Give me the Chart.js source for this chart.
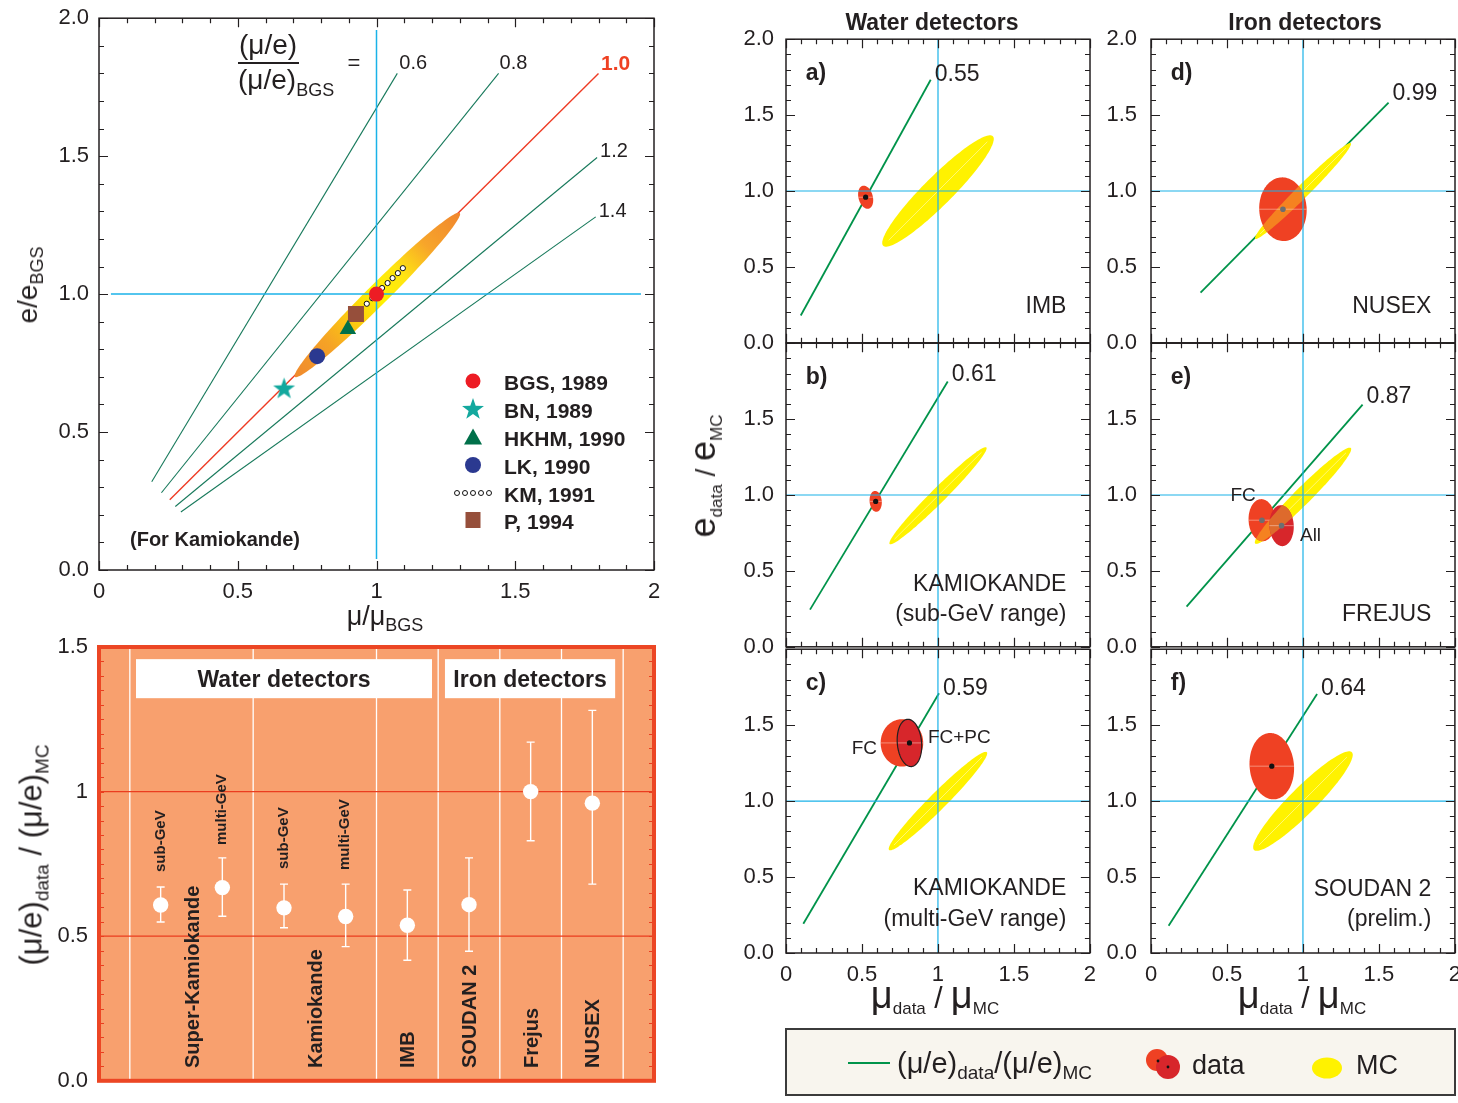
<!DOCTYPE html>
<html lang="en"><head><meta charset="utf-8">
<title>μ/e ratio: flux models and detector results</title>
<script src="https://cdn.jsdelivr.net/npm/chart.js@4.4.1/dist/chart.umd.min.js"></script>
<style>
html,body{margin:0;padding:0;background:#fff;}
body{position:relative;width:1458px;height:1103px;overflow:hidden;font-family:"Liberation Sans",Arial,Helvetica,sans-serif;color:#231f20;}
canvas{position:absolute;z-index:1;}
.lbl{position:absolute;z-index:5;white-space:nowrap;line-height:1;}
.sb{position:relative;}
#legendBox{position:absolute;left:785px;top:1028px;width:671px;height:68px;box-sizing:border-box;border:2px solid #3b3b3b;background:#f8f5ee;z-index:2;}
</style></head><body>
<div id="legendBox"></div>
<script>
// ================= DATA =================
// --- top-left: (mu/e)/(mu/e)_BGS ratio lines and flux models ---
const tlXTickLabels = ['0','0.5','1','1.5','2'];
const tlYTickLabels = ['0.0','0.5','1.0','1.5','2.0'];
const tlRatioLabels = ['0.6','0.8','1.0','1.2','1.4'];
const tlLineStart = [[0.19,0.32],[0.225,0.28],[0.255,0.255],[0.275,0.23],[0.295,0.21]];
const tlLineEnd   = [[1.075,1.80],[1.44,1.80],[1.80,1.80],[1.795,1.495],[1.79,1.28]];
const tlModels   = ['BGS, 1989','BN, 1989','HKHM, 1990','LK, 1990','KM, 1991','P, 1994'];
const tlModelMu  = [1.0, 0.667, 0.897, 0.786, null, 0.926];
const tlModelE   = [1.0, 0.656, 0.873, 0.775, null, 0.928];
const kmMu = [0.965,0.985,1.02,1.04,1.058,1.077,1.095];
const kmE  = [0.965,0.985,1.022,1.04,1.058,1.076,1.094];
const tlBand = [1.003,0.997,0.42,0.038,45];          // centre mu, centre e, half-length, half-width, angle
const tlCyanV = [[1,0.04],[1,1.957]];
const tlCyanH = [[0.043,1],[1.953,1]];
const axisMajor = [0,0.5,1,1.5,2];
const axisMinor = [0.1,0.2,0.3,0.4,0.6,0.7,0.8,0.9,1.1,1.2,1.3,1.4,1.6,1.7,1.8,1.9];

// --- bottom-left: (mu/e)_data/(mu/e)_MC per experiment ---
const blCategories = ['Super-Kamiokande sub-GeV','Super-Kamiokande multi-GeV','Kamiokande sub-GeV','Kamiokande multi-GeV','IMB','SOUDAN 2','Frejus','NUSEX'];
const blRatio = [0.608,0.668,0.598,0.568,0.538,0.609,1.0,0.96];
const blHigh  = [0.67,0.771,0.68,0.68,0.66,0.771,1.171,1.281];
const blLow   = [0.549,0.569,0.529,0.464,0.417,0.448,0.83,0.68];
const blYTickLabels = ['0.0','0.5','1','1.5'];
const blDetectors = ['Super-Kamiokande','Kamiokande','IMB','SOUDAN 2','Frejus','NUSEX'];
const blEnergyLabels = ['sub-GeV','multi-GeV','sub-GeV','multi-GeV'];
const blGroups = ['Water detectors','Iron detectors'];
const blRefLines = [0.5,1.0];
const blSeparators = [0.5,2.5,4.5,5.5,6.5,7.5,8.5];
const blMinor = [0.05,0.1,0.15,0.2,0.25,0.3,0.35,0.4,0.45,0.5,0.55,0.6,0.65,0.7,0.75,0.8,0.85,0.9,0.95,1,1.05,1.1,1.15,1.2,1.25,1.3,1.35,1.4,1.45];

// --- right: six detector panels (mu_data/mu_MC vs e_data/e_MC) ---
const panelLetters = ['a)','b)','c)','d)','e)','f)'];
const panelGroups = ['Water detectors','Iron detectors'];
const panelRatioLabels = ['0.55','0.61','0.59','0.99','0.87','0.64'];
const panelDetector = [['IMB'],['KAMIOKANDE','(sub-GeV range)'],['KAMIOKANDE','(multi-GeV range)'],['NUSEX'],['FREJUS'],['SOUDAN 2','(prelim.)']];
const panelLineStart = [[0.097,0.18],[0.158,0.245],[0.114,0.193],[0.326,0.33],[0.234,0.265],[0.116,0.18]];
const panelLineEnd   = [[0.952,1.733],[1.064,1.748],[1.007,1.71],[1.563,1.582],[1.392,1.595],[1.093,1.705]];
const panelMC = [[1.0,1.0,0.51,0.095,45],[1.0,0.995,0.45,0.048,45],[1.0,1.0,0.455,0.056,45],[1.0,1.0,0.445,0.042,45],[1.0,0.995,0.445,0.055,45],[1.0,1.0,0.455,0.088,45]];
const panelDataTags = [[''],[''],['FC','FC+PC'],[''],['FC','All'],['']];
const panelDataMu   = [[0.524],[0.59],[0.763,0.8125],[0.868],[0.73,0.859],[0.795]];
const panelDataE    = [[0.959],[0.958],[1.383,1.383],[0.88],[0.834,0.798],[1.23]];
const panelDataA    = [[0.078],[0.069],[0.156,0.156],[0.21],[0.139,0.135],[0.219]];
const panelDataB    = [[0.047],[0.04],[0.14,0.08],[0.156],[0.088,0.08],[0.146]];
const panelDataTilt = [[105],[95],[90,95],[93],[93,93],[95]];
const panelXTickLabels = ['0','0.5','1','1.5','2'];
const panelYTickLabels = ['0.0','0.5','1.0','1.5','2.0'];

// ================= LAYOUT & STYLE =================
const FONT = '"Liberation Sans", Arial, Helvetica, sans-serif';
const INK = '#231f20', CYAN = '#1ab2e8', GREEN = '#00934a', TLGREEN = '#17795b';
const LAYOUT = {
  tlArea: {x:99, y:18, w:555, h:552},
  blArea: {x:99, y:647, w:555, h:434},
  tlLabelOffsets: [[2,-11],[1,-11],[2.5,-11],[3,-7],[3,-7]],
  panelAreaLeft: [786,1151], panelAreaTop: [39,343,649], panelSize: 304,
  panelRatioOffsets: [[4,-7],[4,-8],[4,-6],[4,-10],[4,-9],[4,-7]],
  detectorLabelY: [[0.25],[0.42,0.224],[0.43,0.232],[0.245],[0.224],[0.424,0.232]],
  tagPos: [[],[],[[0.599,1.354,1],[0.934,1.43,0]],[],[[0.523,1.007,0],[0.98,0.743,0]],[]],
  blDetectorX: [1.5,3.5,5,6,7,8],
  blEnergyX: [0.97,1.97,2.97,3.95], blEnergyY: [0.722,0.816,0.733,0.729],
  blGroupBox: [[0.6,5.4],[5.61,8.37]], blGroupY: [1.323,1.458]
};
const BAND_STOPS = [[0,'#f08a2e'],[0.2,'#f5a226'],[0.38,'#fdd20c'],[0.5,'#fff200'],[0.64,'#ffe412'],[0.8,'#f7a52a'],[1,'#f0862e']];
const panelOverlap = [false,false,false,true,true,false];
const panelDotColor = ['#111','#111','#111','#6d6e71','#6d6e71','#111'];
const panelDotRadius = [[2.6],[2.6],[0,2.6],[2.8],[2.8,2.8],[2.6]];   // FC centre in c) is hidden under FC+PC

// ================= HELPERS =================
function sub(t,size,shift){ return `<span class="sb" style="font-size:${size}px;top:${shift}px">${t}</span>`; }
function addText(html,x,y,o){
  o=o||{};
  const el=document.createElement('div');
  el.className='lbl'; el.innerHTML=html;
  el.style.left=x+'px'; el.style.top=y+'px';
  el.style.fontSize=(o.size||20)+'px';
  if(o.bold) el.style.fontWeight='bold';
  if(o.color) el.style.color=o.color;
  const ax=(o.ax===undefined)?0.5:o.ax, ay=(o.ay===undefined)?0.5:o.ay;
  if(o.rot==='start'){ el.style.transformOrigin='0 0'; el.style.transform='rotate(-90deg) translateY(-50%)'; }
  else if(o.rot==='center'){ el.style.transform='translate(-50%,-50%) rotate(-90deg)'; }
  else el.style.transform=`translate(${-ax*100}%,${-ay*100}%)`;
  document.body.appendChild(el); return el;
}
function makeCanvas(id,w,h){
  const c=document.createElement('canvas'); c.id=id; c.width=w; c.height=h;
  c.style.left='0px'; c.style.top='0px'; c.style.width=w+'px'; c.style.height=h+'px';
  document.body.appendChild(c); return c;
}
function ellipsePath(ctx,xs,ys,g){
  const [cx,cy,a,b,ang]=g, th=ang*Math.PI/180, c=Math.cos(th), s=Math.sin(th);
  ctx.beginPath();
  for(let k=0;k<=120;k++){
    const t=k/120*2*Math.PI, u=a*Math.cos(t), v=b*Math.sin(t);
    const px=xs.getPixelForValue(cx+u*c-v*s), py=ys.getPixelForValue(cy+u*s+v*c);
    if(k===0) ctx.moveTo(px,py); else ctx.lineTo(px,py);
  }
  ctx.closePath();
}
function drawShapes(chart,d){
  const {ctx,scales:{x:xs,y:ys}}=chart;
  const P=(x,y)=>[xs.getPixelForValue(x),ys.getPixelForValue(y)];
  ctx.save();
  if(d.band){
    const [cx,cy,a,,ang]=d.band.geom, th=ang*Math.PI/180;
    const p0=P(cx-a*Math.cos(th),cy-a*Math.sin(th)), p1=P(cx+a*Math.cos(th),cy+a*Math.sin(th));
    const g=ctx.createLinearGradient(p0[0],p0[1],p1[0],p1[1]);
    d.band.stops.forEach(s=>g.addColorStop(s[0],s[1]));
    ellipsePath(ctx,xs,ys,d.band.geom); ctx.fillStyle=g; ctx.fill();
  }
  if(d.mc){
    ellipsePath(ctx,xs,ys,d.mc); ctx.fillStyle='#fff200'; ctx.fill();
    const [cx,cy,a,,ang]=d.mc, th=ang*Math.PI/180;
    const p0=P(cx-0.9*a*Math.cos(th),cy-0.9*a*Math.sin(th)), p1=P(cx+0.9*a*Math.cos(th),cy+0.9*a*Math.sin(th));
    ctx.strokeStyle='rgba(255,255,255,0.45)'; ctx.lineWidth=1;
    ctx.beginPath(); ctx.moveTo(p0[0],p0[1]); ctx.lineTo(p1[0],p1[1]); ctx.stroke();
  }
  (d.data||[]).forEach(e=>{
    ellipsePath(ctx,xs,ys,e.geom); ctx.fillStyle=e.fill; ctx.fill();
    if(e.overlap&&d.mc){
      ctx.save(); ellipsePath(ctx,xs,ys,e.geom); ctx.clip();
      ellipsePath(ctx,xs,ys,d.mc); ctx.fillStyle=e.overlap; ctx.fill(); ctx.restore();
    }
    const [cx,cy,a,b,ang]=e.geom, th=ang*Math.PI/180;
    const hw=1/Math.sqrt(Math.cos(th)**2/(a*a)+Math.sin(th)**2/(b*b));
    const q0=P(cx-hw,cy), q1=P(cx+hw,cy);
    ctx.strokeStyle='rgba(255,220,205,0.5)'; ctx.lineWidth=1;
    ctx.beginPath(); ctx.moveTo(q0[0],q0[1]); ctx.lineTo(q1[0],q1[1]); ctx.stroke();
    if(e.stroke){ ellipsePath(ctx,xs,ys,e.geom); ctx.strokeStyle=e.stroke; ctx.lineWidth=1.2; ctx.stroke(); }
  });
  ctx.restore();
}
function drawTicks(chart,t){
  const {ctx,chartArea:ca,scales:{x:xs,y:ys}}=chart;
  const sides=t.sides||['top','bottom','left','right'];
  ctx.save(); ctx.strokeStyle=t.color; ctx.lineWidth=t.width; ctx.beginPath();
  const putX=(vals,len)=>vals.forEach(v=>{const p=Math.round(xs.getPixelForValue(v))+0.5;
    if(sides.includes('bottom')){ctx.moveTo(p,ca.bottom);ctx.lineTo(p,ca.bottom-len);}
    if(sides.includes('top')){ctx.moveTo(p,ca.top);ctx.lineTo(p,ca.top+len);}});
  const putY=(vals,len)=>vals.forEach(v=>{const p=Math.round(ys.getPixelForValue(v))+0.5;
    if(sides.includes('left')){ctx.moveTo(ca.left,p);ctx.lineTo(ca.left+len,p);}
    if(sides.includes('right')){ctx.moveTo(ca.right,p);ctx.lineTo(ca.right-len,p);}});
  if(t.x){putX(t.x.major,t.majorLen);putX(t.x.minor,t.minorLen);}
  if(t.y){putY(t.y.major,t.majorLen);putY(t.y.minor,t.minorLen);}
  ctx.stroke(); ctx.restore();
}
const DECO={};
Chart.register({
  id:'deco',
  beforeDatasetsDraw(chart){
    const d=DECO[chart.canvas.id]; if(!d) return;
    const {ctx,chartArea:ca,scales:{x:xs,y:ys}}=chart;
    ctx.save();
    if(d.bg){ctx.fillStyle=d.bg; ctx.fillRect(ca.left,ca.top,ca.width,ca.height);}
    if(d.vlines){ctx.strokeStyle=d.vlines.color; ctx.lineWidth=d.vlines.width; ctx.beginPath();
      d.vlines.at.forEach(v=>{const p=xs.getPixelForValue(v); ctx.moveTo(p,ca.top); ctx.lineTo(p,ca.bottom);}); ctx.stroke();}
    if(d.hlines){ctx.strokeStyle=d.hlines.color; ctx.lineWidth=d.hlines.width; ctx.beginPath();
      d.hlines.at.forEach(v=>{const p=ys.getPixelForValue(v); ctx.moveTo(ca.left,p); ctx.lineTo(ca.right,p);}); ctx.stroke();}
    (d.boxes||[]).forEach(b=>{const x0=xs.getPixelForValue(b.x0),x1=xs.getPixelForValue(b.x1),y0=ys.getPixelForValue(b.y0),y1=ys.getPixelForValue(b.y1);
      ctx.fillStyle=b.fill; ctx.fillRect(x0,y1,x1-x0,y0-y1);});
    if(d.errors){const e=d.errors; ctx.strokeStyle=e.color; ctx.lineWidth=e.width; ctx.beginPath();
      e.x.forEach((xv,i)=>{const p=xs.getPixelForValue(xv),pl=ys.getPixelForValue(e.lo[i]),ph=ys.getPixelForValue(e.hi[i]);
        ctx.moveTo(p,pl);ctx.lineTo(p,ph);ctx.moveTo(p-e.cap,pl);ctx.lineTo(p+e.cap,pl);ctx.moveTo(p-e.cap,ph);ctx.lineTo(p+e.cap,ph);});
      ctx.stroke();}
    ctx.restore();
  },
  beforeDatasetDraw(chart,args){
    const d=DECO[chart.canvas.id];
    if(d && chart.data.datasets[args.index].shapesBefore) drawShapes(chart,d);
  },
  afterDraw(chart){
    const d=DECO[chart.canvas.id]; if(!d) return;
    const {ctx,chartArea:ca}=chart;
    if(d.ticks) drawTicks(chart,d.ticks);
    if(d.frame){ctx.save(); ctx.strokeStyle=d.frame.color; ctx.lineWidth=d.frame.width; ctx.strokeRect(ca.left,ca.top,ca.width,ca.height); ctx.restore();}
  }
});
function placeLabels(chart){
  const d=DECO[chart.canvas.id]; if(!d||!d.labels) return;
  const L=parseFloat(chart.canvas.style.left), T=parseFloat(chart.canvas.style.top), xs=chart.scales.x, ys=chart.scales.y;
  d.labels.forEach(l=>addText(l.html, L+xs.getPixelForValue(l.x)+(l.dx||0), T+ys.getPixelForValue(l.y)+(l.dy||0), l));
}
// create a chart whose plot area lands exactly on the requested page rectangle
function buildChart(id,area,m,cfgFn){
  let w=area.w+m.l+m.r, h=area.h+m.t+m.b, chart, cv;
  for(let it=0;it<5;it++){
    cv=makeCanvas(id,Math.round(w),Math.round(h));
    chart=new Chart(cv,cfgFn());
    const ca=chart.chartArea;
    const dw=area.w-(ca.right-ca.left), dh=area.h-(ca.bottom-ca.top);
    if((Math.abs(dw)<0.5&&Math.abs(dh)<0.5)||it===4){
      cv.style.left=(area.x-ca.left)+'px'; cv.style.top=(area.y-ca.top)+'px'; break;
    }
    chart.destroy(); cv.remove(); w+=dw; h+=dh;
  }
  placeLabels(chart);
  return chart;
}
function axis(min,max,step,labels,o){
  return {type:'linear',min,max,display:o.display!==false,
    grid:{display:false,drawTicks:false},border:{display:false},
    ticks:{stepSize:step,padding:o.pad,color:INK,font:{family:FONT,size:22},autoSkip:false,maxRotation:0,minRotation:0,
      callback:(v)=>{const i=Math.round((v-min)/step); return (o.hide||[]).includes(i)?'':labels[i];}},
    afterFit:(s)=>{ if(o.w) s.width=o.w; if(o.h) s.height=o.h; }};
}
function opts(xA,yA,pad){
  return {responsive:false,maintainAspectRatio:false,animation:false,events:[],layout:{padding:pad},
    plugins:{legend:{display:false},tooltip:{enabled:false}},scales:{x:xA,y:yA}};
}
function lineDs(p0,p1,color,width,extra){
  return Object.assign({data:[{x:p0[0],y:p0[1]},{x:p1[0],y:p1[1]}],showLine:true,borderColor:color,borderWidth:width,pointRadius:0,fill:false,tension:0},extra||{});
}
function starImage(r,ri,color){
  const s=Math.ceil(r*2+2), c=document.createElement('canvas'); c.width=s; c.height=s;
  const g=c.getContext('2d'); g.fillStyle=color; g.beginPath();
  for(let k=0;k<10;k++){const rr=k%2?ri:r, a=-Math.PI/2+k*Math.PI/5, X=s/2+rr*Math.cos(a), Y=s/2+rr*Math.sin(a); if(k) g.lineTo(X,Y); else g.moveTo(X,Y);}
  g.closePath(); g.fill(); return c;
}
function starPoints(cx,cy,r,ri){let p=[];for(let k=0;k<10;k++){const rr=k%2?ri:r,a=-Math.PI/2+k*Math.PI/5;p.push((cx+rr*Math.cos(a)).toFixed(2)+','+(cy+rr*Math.sin(a)).toFixed(2));}return p.join(' ');}

// ================= TOP-LEFT CHART =================
const STAR = starImage(11.5,4.6,'#13a89e');
const MODEL_STYLE = [
  {style:'circle',r:7.5,color:'#ed1c24'},
  {style:STAR,r:11,color:'#13a89e'},
  {style:'triangle',r:9.5,color:'#00704a'},
  {style:'circle',r:8,color:'#2b3990'},
  {style:'circle',r:2.6,color:'#fff'},
  {style:'rect',r:11.3,color:'#964f3b'}
];
DECO.tl={
  frame:{color:INK,width:1.5},
  ticks:{x:{major:axisMajor,minor:axisMinor},y:{major:axisMajor,minor:axisMinor},majorLen:9,minorLen:5,color:INK,width:1.2},
  band:{geom:tlBand,stops:BAND_STOPS},
  labels:tlRatioLabels.map((t,i)=>({x:tlLineEnd[i][0],y:tlLineEnd[i][1],html:t,size:i===2?21:20,bold:i===2,color:i===2?'#ef4123':INK,ax:0,ay:0.5,dx:LAYOUT.tlLabelOffsets[i][0],dy:LAYOUT.tlLabelOffsets[i][1]}))
};
buildChart('tl',LAYOUT.tlArea,{l:99,t:18,r:26,b:70},()=>{
  const modelSets=tlModels.map((m,i)=>{
    if(i===4) return {label:m,data:kmMu.map((v,k)=>({x:v,y:kmE[k]})),pointStyle:'circle',pointRadius:2.6,pointBackgroundColor:'#fff',pointBorderColor:'#111',pointBorderWidth:1};
    return {label:m,data:[{x:tlModelMu[i],y:tlModelE[i]}],pointStyle:MODEL_STYLE[i].style,pointRadius:MODEL_STYLE[i].r,pointBackgroundColor:MODEL_STYLE[i].color,pointBorderWidth:0};
  });
  const ratioSets=tlRatioLabels.map((r,i)=>lineDs(tlLineStart[i],tlLineEnd[i],i===2?'#ee3b24':TLGREEN,i===2?1.4:1.1,{label:'ratio '+r}));
  return {type:'scatter',data:{datasets:[
    ...modelSets,
    lineDs(tlCyanV[0],tlCyanV[1],CYAN,1.5),
    lineDs(tlCyanH[0],tlCyanH[1],CYAN,1.5,{shapesBefore:true}),
    ...ratioSets
  ]},options:opts(axis(0,2,0.5,tlXTickLabels,{pad:9,h:70}),axis(0,2,0.5,tlYTickLabels,{pad:10,w:99}),{top:18,right:26,bottom:0,left:0})};
});
// static texts of the top-left panel
addText('(μ/e)',268,45,{size:28});
{ const bar=document.createElement('div'); bar.style.cssText='position:absolute;left:238px;top:62px;width:61px;height:1.5px;background:#231f20;z-index:5;'; document.body.appendChild(bar); }
addText('(μ/e)'+sub('BGS',18,7),238,80,{size:28,ax:0});
addText('=',354,63,{size:22});
addText('e/e'+sub('BGS',18,6),28,285,{size:28,rot:'center'});
addText('μ/μ'+sub('BGS',18,6),385,616,{size:27});
addText('(For Kamiokande)',130,539,{size:20,bold:true,ax:0});
{
  const rows=[381.7,410,437.5,466,493.5,521];
  const icons=[
    '<svg width="20" height="20"><circle cx="10" cy="10" r="7.5" fill="#ed1c24"/></svg>',
    `<svg width="24" height="24"><polygon points="${starPoints(12,12.5,11.5,4.6)}" fill="#13a89e"/></svg>`,
    '<svg width="20" height="20"><polygon points="10,1.5 19,17.5 1,17.5" fill="#00704a"/></svg>',
    '<svg width="20" height="20"><circle cx="10" cy="10" r="8" fill="#2b3990"/></svg>',
    '<svg width="40" height="10">'+[4,12,20,28,36].map(c=>`<circle cx="${c}" cy="5" r="2.5" fill="#fff" stroke="#111" stroke-width="1"/>`).join('')+'</svg>',
    '<svg width="18" height="18"><rect x="1.5" y="1" width="15" height="16" fill="#964f3b"/></svg>'
  ];
  tlModels.forEach((m,i)=>{ addText(icons[i],473,rows[i],{size:10}); addText(m,504,rows[i],{size:21,bold:true,ax:0}); });
}

// ================= BOTTOM-LEFT CHART =================
{
  const xs=blRatio.map((v,i)=>i+1);
  DECO.bl={
    bg:'#f8a06e',
    vlines:{at:blSeparators,color:'#ffffff',width:1.3},
    hlines:{at:blRefLines,color:'#ea3d1f',width:1.2},
    boxes:LAYOUT.blGroupBox.map(b=>({x0:b[0],x1:b[1],y0:LAYOUT.blGroupY[0],y1:LAYOUT.blGroupY[1],fill:'#ffffff'})),
    errors:{x:xs,lo:blLow,hi:blHigh,color:'#ffffff',width:1.4,cap:4},
    ticks:{y:{major:[],minor:blMinor},majorLen:6,minorLen:5,color:'#ea3d1f',width:1,sides:['left','right']},
    frame:{color:'#ec4624',width:4},
    labels:[
      ...blDetectors.map((t,k)=>({x:LAYOUT.blDetectorX[k],y:0,dy:-13,html:t,size:20,bold:true,rot:'start'})),
      ...blEnergyLabels.map((t,k)=>({x:LAYOUT.blEnergyX[k],y:LAYOUT.blEnergyY[k],html:t,size:15,bold:true,rot:'start'})),
      ...blGroups.map((t,k)=>({x:(LAYOUT.blGroupBox[k][0]+LAYOUT.blGroupBox[k][1])/2,y:(LAYOUT.blGroupY[0]+LAYOUT.blGroupY[1])/2,html:t,size:23,bold:true}))
    ]
  };
  buildChart('bl',LAYOUT.blArea,{l:99,t:27,r:26,b:22},()=>({type:'scatter',data:{labels:blCategories,datasets:[
    {label:'(μ/e)data/(μ/e)MC',data:blRatio.map((v,i)=>({x:xs[i],y:v})),pointStyle:'circle',pointRadius:7.7,pointBackgroundColor:'#ffffff',pointBorderWidth:0}
  ]},options:opts(axis(0,9,1,[],{display:false}),axis(0,1.5,0.5,blYTickLabels,{pad:11,w:99}),{top:27,right:26,bottom:22,left:0})}));
  addText('(μ/e)'+sub('data',19,7)+' / (μ/e)'+sub('MC',19,7),31,855,{size:31,rot:'center'});
}

// ================= RIGHT PANELS =================
for(let i=0;i<6;i++){
  const col=i<3?0:1, row=i%3, showX=row===2;
  const S=LAYOUT.panelSize;
  const area={x:LAYOUT.panelAreaLeft[col], y:LAYOUT.panelAreaTop[row], w:S, h:S};
  const dots=panelDataMu[i].map((m,k)=>({x:m,y:panelDataE[i][k]}));
  const tags=panelDataTags[i].map((t,k)=>t&&LAYOUT.tagPos[i][k]?{x:LAYOUT.tagPos[i][k][0],y:LAYOUT.tagPos[i][k][1],html:t,size:19,ax:LAYOUT.tagPos[i][k][2],ay:0.5}:null).filter(Boolean);
  DECO['p'+i]={
    frame:{color:INK,width:1.5},
    ticks:{x:{major:axisMajor,minor:axisMinor},y:{major:axisMajor,minor:axisMinor},majorLen:9,minorLen:5,color:INK,width:1.2},
    mc:panelMC[i],
    data:panelDataMu[i].map((m,k)=>({geom:[m,panelDataE[i][k],panelDataA[i][k],panelDataB[i][k],panelDataTilt[i][k]],
      fill:k?'#d7262b':'#ef4123', overlap:panelOverlap[i]?(k?'#de6a2c':'#f58220'):null, stroke:(i===2&&k===1)?INK:null})),
    labels:[
      {x:0.13,y:1.783,html:panelLetters[i],size:23,bold:true,ax:0,ay:0.5},
      {x:panelLineEnd[i][0],y:panelLineEnd[i][1],html:panelRatioLabels[i],size:23,ax:0,ay:0.5,dx:LAYOUT.panelRatioOffsets[i][0],dy:LAYOUT.panelRatioOffsets[i][1]},
      ...panelDetector[i].map((t,k)=>({x:1.845,y:LAYOUT.detectorLabelY[i][k],html:t,size:23,ax:1,ay:0.5})),
      ...tags
    ]
  };
  const xAxisOpt=showX?{pad:9,h:45}:{display:false};
  buildChart('p'+i,area,{l:70,t:14,r:14,b:showX?45:14},()=>({type:'scatter',data:{datasets:[
    {label:'data',data:dots,pointRadius:panelDotRadius[i],pointBackgroundColor:panelDotColor[i],pointBorderWidth:0},
    lineDs([1,0],[1,2],CYAN,1.2),
    lineDs([0,1],[2,1],CYAN,1.2,{shapesBefore:true}),
    lineDs(panelLineStart[i],panelLineEnd[i],GREEN,1.8,{label:'(μ/e) ratio '+panelRatioLabels[i]})
  ]},options:opts(axis(0,2,0.5,panelXTickLabels,xAxisOpt),axis(0,2,0.5,panelYTickLabels,{pad:col?14:12,w:70,hide:row?[4]:[]}),{top:14,right:14,bottom:showX?0:14,left:0})}));
}
addText(panelGroups[0],932,21.5,{size:23,bold:true});
addText(panelGroups[1],1305,21.5,{size:23,bold:true});
addText('<span style="font-size:36px">e</span>'+sub('data',17,7)+'<span style="font-size:28px"> / </span><span style="font-size:36px">e</span>'+sub('MC',17,7),703,476,{size:36,rot:'center'});
{
  const xTitle='<span style="font-size:38px">μ</span>'+sub('data',17,6)+'<span style="font-size:30px"> / </span><span style="font-size:38px">μ</span>'+sub('MC',17,6);
  addText(xTitle,935,995,{size:38});
  addText(xTitle,1302,995,{size:38});
}

// ================= LEGEND BOX =================
{
  const ln=document.createElement('div'); ln.style.cssText='position:absolute;left:848px;top:1062px;width:42px;height:2px;background:#00934a;z-index:5;'; document.body.appendChild(ln);
  addText('(μ/e)'+sub('data',19,6)+'/(μ/e)'+sub('MC',19,6),897,1063,{size:29,ax:0});
  addText('<svg width="42" height="32"><circle cx="14" cy="12" r="11" fill="#ef4123"/><circle cx="25" cy="19" r="12" fill="#d7262b"/><circle cx="15" cy="13" r="1.4" fill="#111"/><circle cx="25" cy="19" r="1.4" fill="#111"/></svg>',1164,1065,{size:10});
  addText('data',1192,1065,{size:27,ax:0});
  addText('<svg width="34" height="24"><ellipse cx="17" cy="12" rx="15" ry="10.5" fill="#fff200"/></svg>',1327,1069,{size:10});
  addText('MC',1356,1065,{size:27,ax:0});
}
</script></body></html>
